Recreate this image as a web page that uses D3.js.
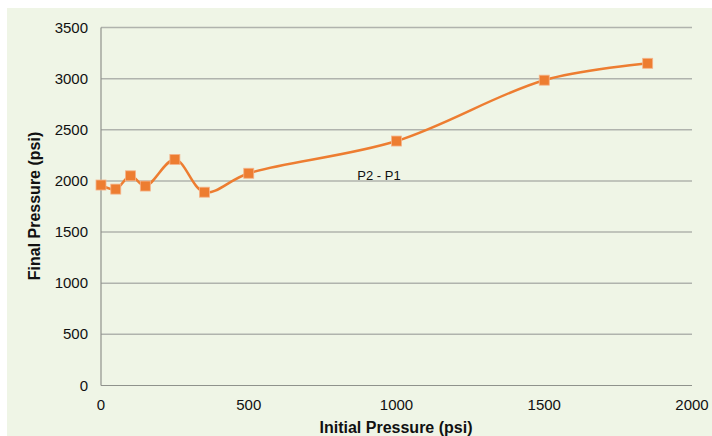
<!DOCTYPE html>
<html>
<head>
<meta charset="utf-8">
<script src="https://cdn.jsdelivr.net/npm/d3@7"></script>
<style>
  body { margin: 0; background: #fff; }
  svg { display: block; font-family: Arial, "Liberation Sans", sans-serif; }
</style>
</head>
<body>
<svg width="712" height="436"></svg>
<script>
// data
var initialPressure = [0, 50, 100, 150, 250, 350, 500, 1000, 1500, 1850];
var finalPressure = [1960, 1920, 2050, 1950, 2210, 1890, 2075, 2390, 2985, 3150];
var xTicks = [0, 500, 1000, 1500, 2000];
var yTicks = [0, 500, 1000, 1500, 2000, 2500, 3000, 3500];
var seriesLabel = 'P2 - P1';

var svg = d3.select('svg');

// panel background
svg.append('rect')
    .attr('x', 7).attr('y', 8)
    .attr('width', 705).attr('height', 428)
    .attr('fill', '#eff5e6');

var plot = {l: 101, r: 692, t: 27.5, b: 385.5};

var xScale = d3.scaleLinear().domain([0, 2000]).range([plot.l, plot.r]);
var yScale = d3.scaleLinear().domain([0, 3500]).range([plot.b, plot.t]);

// horizontal grid
svg.append('g')
    .selectAll('line')
    .data(yTicks.filter(d => d > 0))
    .enter()
    .append('line')
    .attr('x1', plot.l).attr('x2', plot.r)
    .attr('y1', d => yScale(d)).attr('y2', d => yScale(d))
    .attr('stroke', '#b0b3ad')
    .attr('stroke-width', 1.5);

// axis lines
svg.append('line')
    .attr('x1', plot.l).attr('x2', plot.r)
    .attr('y1', plot.b).attr('y2', plot.b)
    .attr('stroke', '#8f928c').attr('stroke-width', 1.2);
svg.append('line')
    .attr('x1', plot.l).attr('x2', plot.l)
    .attr('y1', plot.t).attr('y2', plot.b)
    .attr('stroke', '#8f928c').attr('stroke-width', 1.2);

// tick labels
svg.append('g')
    .selectAll('text')
    .data(yTicks)
    .enter()
    .append('text')
    .attr('x', 88)
    .attr('y', d => yScale(d) + 5)
    .attr('text-anchor', 'end')
    .attr('font-size', 15)
    .attr('fill', '#111')
    .text(d => d);

svg.append('g')
    .selectAll('text')
    .data(xTicks)
    .enter()
    .append('text')
    .attr('x', d => xScale(d))
    .attr('y', 410)
    .attr('text-anchor', 'middle')
    .attr('font-size', 15)
    .attr('fill', '#111')
    .text(d => d);

// axis titles
svg.append('text')
    .attr('x', 396).attr('y', 433)
    .attr('text-anchor', 'middle')
    .attr('font-size', 16)
    .attr('font-weight', 'bold')
    .attr('fill', '#111')
    .text('Initial Pressure (psi)');

svg.append('text')
    .attr('transform', 'translate(40,206) rotate(-90)')
    .attr('text-anchor', 'middle')
    .attr('font-size', 16)
    .attr('font-weight', 'bold')
    .attr('fill', '#111')
    .text('Final Pressure (psi)');

// smoothed series line
var points = initialPressure.map((x, i) => [x, finalPressure[i]]);
var line = d3.line()
    .x(d => xScale(d[0]))
    .y(d => yScale(d[1]))
    .curve(d3.curveCatmullRom.alpha(0.5));

svg.append('path')
    .attr('d', line(points))
    .attr('fill', 'none')
    .attr('stroke', '#ed7d31')
    .attr('stroke-width', 2.5);

// square markers
var ms = 10;
svg.append('g')
    .selectAll('rect')
    .data(points)
    .enter()
    .append('rect')
    .attr('x', d => xScale(d[0]) - ms / 2)
    .attr('y', d => yScale(d[1]) - ms / 2)
    .attr('width', ms).attr('height', ms)
    .attr('fill', '#ed7d31')
    .attr('stroke', '#f5b48a')
    .attr('stroke-width', 0.8);

// series label
svg.append('text')
    .attr('x', 379).attr('y', 180)
    .attr('text-anchor', 'middle')
    .attr('font-size', 13)
    .attr('fill', '#111')
    .text(seriesLabel);
</script>
</body>
</html>
